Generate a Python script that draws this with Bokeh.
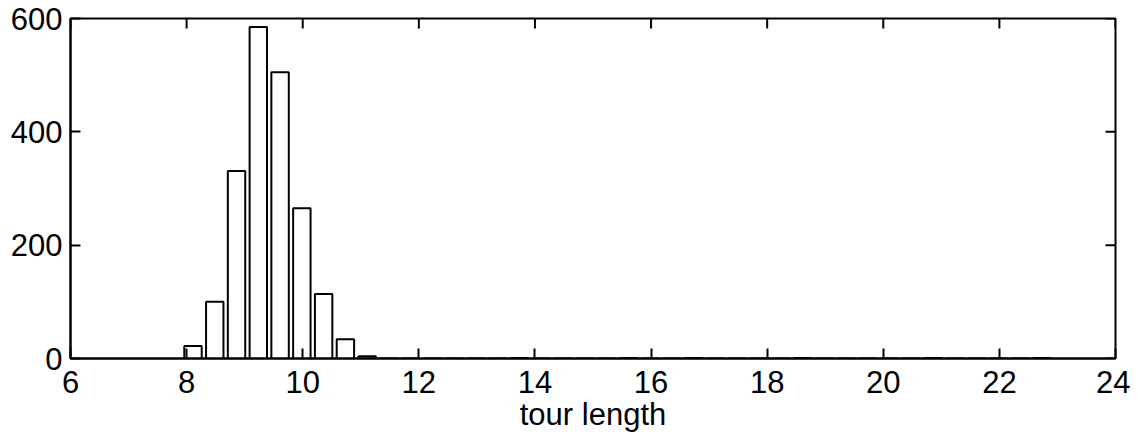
import math
from bokeh.plotting import figure
from bokeh.models import FixedTicker, Range1d
from bokeh.embed import file_html
from bokeh.resources import INLINE

# histogram data: bin centres (tour length) and counts
bin_centers = [8.11, 8.485, 8.86, 9.235, 9.61, 9.985, 10.36, 10.735, 11.11, 11.485,
               11.86, 12.235, 12.61, 12.985, 13.36, 13.735, 14.11, 14.485, 14.86, 15.235,
               15.61, 15.985, 16.36, 16.735, 17.11, 17.485, 17.86, 18.235, 18.61, 18.985,
               19.36, 19.735, 20.11, 20.485, 20.86, 21.235, 21.61, 21.985, 22.36, 22.735]
counts = [22, 100, 331, 585, 505, 265, 114, 34, 4, 0,
          0, 0, 0, 0, 0, 1, 0, 0, 0, 0,
          1, 0, 0, 1, 0, 0, 0, 0, 1, 0,
          0, 0, 0, 0, 1, 0, 0, 0, 0, 1]
x_ticks = [6, 8, 10, 12, 14, 16, 18, 20, 22, 24]
y_ticks = [0, 200, 400, 600]

FONT = "Liberation Sans"
X_MIN, X_MAX, Y_MIN, Y_MAX = 6, 24, 0, 600

p = figure(width=1130, height=434, output_backend="svg", toolbar_location=None,
           x_range=Range1d(X_MIN, X_MAX), y_range=Range1d(Y_MIN, Y_MAX),
           min_border_left=70, min_border_right=15, min_border_top=18, min_border_bottom=60)
p.background_fill_color = "white"
p.border_fill_color = "white"
p.grid.visible = False
p.outline_line_color = "black"
p.outline_line_width = 2

p.vbar(x=bin_centers, top=counts, width=0.3, bottom=0,
       fill_color="white", line_color="black", line_width=2)

# inward ticks on the top and right edges (matlab box style)
p.ray(x=x_ticks, y=[Y_MAX] * len(x_ticks), length=10, length_units="screen",
      angle=-math.pi / 2, line_color="black", line_width=2)
p.ray(x=[X_MAX] * len(y_ticks), y=y_ticks, length=10, length_units="screen",
      angle=math.pi, line_color="black", line_width=2)

def style(ax, ticks):
    ax.ticker = FixedTicker(ticks=ticks)
    ax.minor_tick_line_color = None
    ax.major_tick_in = 10
    ax.major_tick_out = 0
    ax.major_tick_line_width = 2
    ax.major_tick_line_color = "black"
    ax.axis_line_width = 2
    ax.axis_line_color = "black"
    ax.major_label_text_font = FONT
    ax.major_label_text_color = "black"
    ax.major_label_text_font_size = "31px"

xa = p.xaxis[0]
style(xa, x_ticks)
xa.major_label_standoff = 12
xa.axis_label = "tour length"
xa.axis_label_text_font = FONT
xa.axis_label_text_font_size = "31px"
xa.axis_label_text_font_style = "normal"
xa.axis_label_text_color = "black"
xa.axis_label_standoff = 1

ya = p.yaxis[0]
style(ya, y_ticks)
ya.major_label_standoff = 8

open("out.html", "w").write(file_html(p, INLINE))
